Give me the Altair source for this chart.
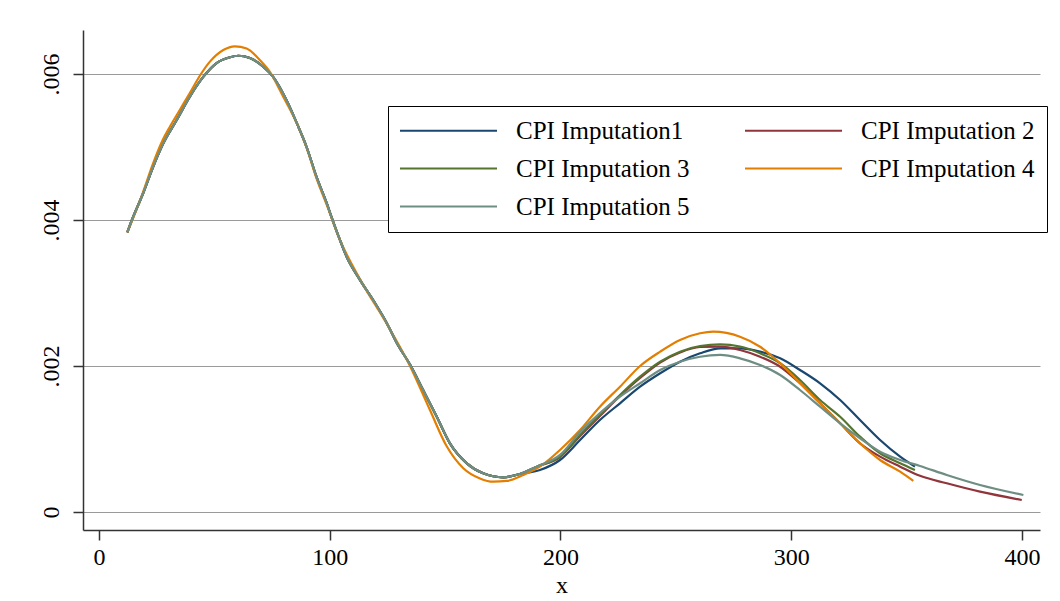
import altair as alt
import pandas as pd

SERIES = ["CPI Imputation1", "CPI Imputation 2", "CPI Imputation 3",
          "CPI Imputation 4", "CPI Imputation 5"]
COLORS = ["#1a476f", "#90353b", "#55752f", "#e37e00", "#6e8e84"]

# shared first part (all imputations except 4 overlap here)
HEAD_X = [12.3, 14.3, 19.2, 23.5, 27.9, 33.7, 39.4, 45.2, 51.0, 56.8, 60.4, 65.4,
          71.2, 75.5, 81.3, 85.7, 90.0, 94.3, 98.7, 100.8, 104.4, 107.3, 113.1,
          118.9, 124.7, 129.7, 134.8, 140.5, 146.3, 152.1, 159.3, 166.5, 175.2, 182.4]
HEAD_Y = [0.00383, 0.00400, 0.00437, 0.00473, 0.00505, 0.00537, 0.00569, 0.00596,
          0.00615, 0.00623, 0.00625, 0.00622, 0.00610, 0.00596, 0.00564, 0.00533,
          0.00500, 0.00459, 0.00423, 0.00404, 0.00373, 0.00350, 0.00318, 0.00290,
          0.00259, 0.00228, 0.00202, 0.00167, 0.00131, 0.00094, 0.00067, 0.00053,
          0.000475, 0.00052]

IMP1_X = [191.1, 199.8, 208.5, 217.1, 225.8, 234.5, 243.2, 251.8, 260.5, 269.2,
          277.8, 286.5, 295.2, 303.8, 312.5, 321.2, 329.8, 338.5, 347.2, 353.6]
IMP1_Y = [0.000575, 0.000712, 0.000986, 0.00126, 0.001489, 0.001716, 0.0019,
          0.002059, 0.002174, 0.002242, 0.002242, 0.002196, 0.002105, 0.001945,
          0.001763, 0.001534, 0.00126, 0.000986, 0.000758, 0.000621]

IMP2_X = [189.7, 199.8, 208.5, 217.1, 225.8, 234.5, 243.2, 251.8, 260.5, 269.2,
          277.8, 286.5, 295.2, 303.8, 312.5, 321.2, 329.8, 338.5, 347.2, 355.8,
          367.4, 381.8, 399.9]
IMP2_Y = [0.000621, 0.000753, 0.001041, 0.001315, 0.001589, 0.001836, 0.002048,
          0.002185, 0.00226, 0.002265, 0.002219, 0.002127, 0.00199, 0.001763,
          0.001489, 0.001215, 0.000941, 0.000758, 0.000621, 0.000495, 0.000393,
          0.000278, 0.000164]

IMP3_X = [189.7, 199.8, 208.5, 217.1, 225.8, 234.5, 243.2, 251.8, 260.5, 269.2,
          277.8, 286.5, 295.2, 303.8, 312.5, 321.2, 329.8, 338.5, 347.2, 353.6]
IMP3_Y = [0.000621, 0.000758, 0.001055, 0.001329, 0.001603, 0.001853, 0.002059,
          0.002196, 0.002274, 0.002295, 0.002267, 0.002174, 0.002037, 0.001808,
          0.001534, 0.001305, 0.001032, 0.000804, 0.000667, 0.000575]

IMP4_X = [12.3, 19.1, 23.4, 27.7, 30.8, 35.1, 39.4, 43.8, 48.1, 53.9, 58.9, 64.0,
          69.8, 74.1, 79.7, 85.7, 90.0, 94.3, 98.7, 104.4, 113.1, 124.7, 134.8,
          143.4, 150.7, 157.9, 165.1, 170.9, 176.7, 183.9, 191.1, 199.8, 208.5,
          217.1, 225.8, 234.5, 243.2, 251.8, 260.5, 266.2, 277.8, 286.5, 295.2,
          303.8, 312.5, 321.2, 329.8, 338.5, 347.2, 352.9]
IMP4_Y = [0.00383, 0.00438, 0.00477, 0.0051, 0.00528, 0.00551, 0.00574, 0.00598,
          0.00617, 0.00633, 0.00638, 0.00635, 0.00619, 0.00603, 0.0057, 0.00533,
          0.00499, 0.00457, 0.00421, 0.00373, 0.00319, 0.00258, 0.002, 0.0014,
          0.0009, 0.0006, 0.00046, 0.000415, 0.000425, 0.000507, 0.000621,
          0.000849, 0.001123, 0.001442, 0.001716, 0.002, 0.002196, 0.002356,
          0.002448, 0.00247, 0.002401, 0.002264, 0.002037, 0.001763, 0.001489,
          0.001215, 0.000941, 0.000712, 0.000552, 0.000425]

IMP5_X = [189.7, 199.8, 208.5, 217.1, 225.8, 234.5, 243.2, 251.8, 260.5, 269.2,
          277.8, 286.5, 295.2, 303.8, 312.5, 321.2, 329.8, 338.5, 347.2, 355.8,
          367.4, 381.8, 400.6]
IMP5_Y = [0.000621, 0.000781, 0.001096, 0.001356, 0.001579, 0.001763, 0.001945,
          0.002059, 0.002127, 0.002151, 0.002105, 0.002014, 0.001877, 0.001671,
          0.001442, 0.001215, 0.00101, 0.000826, 0.000712, 0.00063, 0.000507,
          0.00037, 0.000233]

X_TICKS = [0, 100, 200, 300, 400]
Y_TICKS = [0, 0.002, 0.004, 0.006]

series_xy = [
    (SERIES[0], HEAD_X + IMP1_X, HEAD_Y + IMP1_Y),
    (SERIES[1], HEAD_X + IMP2_X, HEAD_Y + IMP2_Y),
    (SERIES[2], HEAD_X + IMP3_X, HEAD_Y + IMP3_Y),
    (SERIES[3], IMP4_X, IMP4_Y),
    (SERIES[4], HEAD_X + IMP5_X, HEAD_Y + IMP5_Y),
]
rows = []
for name, xs, ys in series_xy:
    for i, (xv, yv) in enumerate(zip(xs, ys)):
        rows.append({"series": name, "x": xv, "y": yv, "i": i})
df = pd.DataFrame(rows)

FONT = "Liberation Serif"

x_enc = alt.X("x:Q",
              scale=alt.Scale(domain=[-6.9, 407.8], nice=False, zero=False),
              axis=alt.Axis(values=X_TICKS, title="x", grid=False, format="d",
                            labelFont=FONT, labelFontSize=24, labelColor="black",
                            titleFont=FONT, titleFontSize=24, titleFontWeight="normal",
                            titleColor="black", titlePadding=4,
                            tickSize=10, tickColor="#333333", tickWidth=1.5,
                            domainColor="#333333", domainWidth=1.5, labelPadding=5))
y_enc = alt.Y("y:Q",
              scale=alt.Scale(domain=[-0.000247, 0.006603], nice=False, zero=False),
              axis=alt.Axis(values=Y_TICKS, title=None, grid=True,
                            gridColor="#9a9a9a", gridWidth=1.2,
                            labelExpr="datum.value == 0 ? '0' : replace(format(datum.value, '.3f'), '0.', '.')",
                            labelAngle=270, labelAlign="center", labelBaseline="bottom",
                            labelFont=FONT, labelFontSize=24, labelColor="black",
                            tickSize=10, tickColor="#333333", tickWidth=1.5,
                            domainColor="#333333", domainWidth=1.5, labelPadding=10))

legend = alt.Legend(title=None, orient="none", legendX=305, legendY=76, columns=2,
                    direction="horizontal",
                    symbolType="M-2.5,0H16.9", symbolSize=100, symbolStrokeWidth=2.2,
                    labelFont=FONT, labelFontSize=25, labelColor="black",
                    labelOffset=91, labelLimit=500, rowPadding=12, columnPadding=50,
                    padding=12, fillColor="white", strokeColor="black")

color_enc = alt.Color("series:N", scale=alt.Scale(domain=SERIES, range=COLORS),
                      legend=legend)

layers = []
for s in SERIES:
    layers.append(
        alt.Chart(df).transform_filter(alt.datum.series == s)
        .mark_line(strokeWidth=2.2, interpolate="monotone")
        .encode(x=x_enc, y=y_enc, color=color_enc, order="i:Q")
    )

chart = alt.layer(*layers).properties(
    width=957, height=500,
    autosize=alt.AutoSizeParams(type="none"),
    padding={"left": 75, "top": 22, "right": 12, "bottom": 70},
    background="white",
).configure_view(stroke=None)

chart.save("out.html", embed_options={"renderer": "svg", "actions": False})
